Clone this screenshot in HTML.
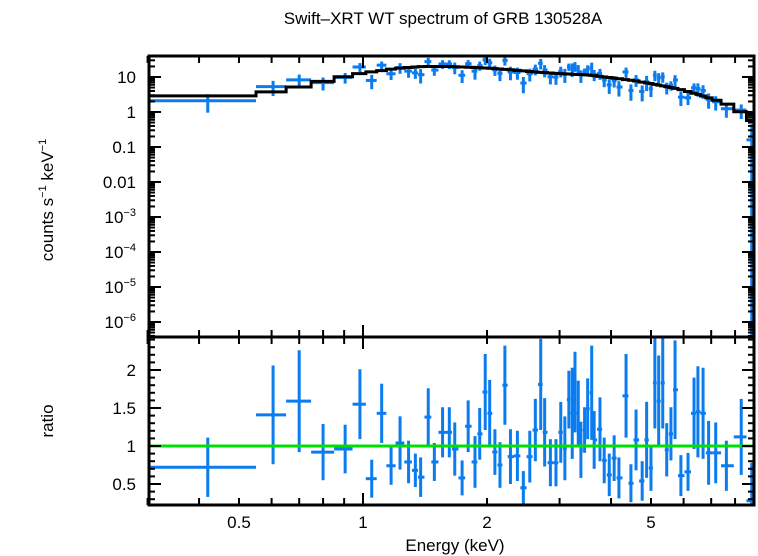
<!DOCTYPE html>
<html><head><meta charset="utf-8"><style>
html,body{margin:0;padding:0;background:#fff;}
svg{display:block;font-family:"Liberation Sans",sans-serif;}
</style></head><body>
<svg id="c" width="758" height="556" viewBox="0 0 758 556">
<text x="443" y="24" font-size="17" text-anchor="middle">Swift–XRT WT spectrum of GRB 130528A</text>
<text x="455" y="551" font-size="17" text-anchor="middle">Energy (keV)</text>
<text transform="translate(53,200) rotate(-90)" font-size="17" text-anchor="middle">counts s<tspan font-size="11" dy="-7">−1</tspan><tspan dy="7"> keV</tspan><tspan font-size="11" dy="-7">−1</tspan></text>
<text transform="translate(53,421) rotate(-90)" font-size="17" text-anchor="middle">ratio</text>
<g id="topPanel"></g>
<g id="botPanel"></g>
</svg>
<script>
const energies=[0.42,0.605,0.70,0.80,0.905,0.983,1.05,1.11,1.17,1.23,1.29,1.34,1.38,1.44,1.49,1.56,1.62,1.67,1.74,1.80,1.87,1.92,1.98,2.03,2.09,2.15,2.21,2.28,2.37,2.45,2.54,2.62,2.70,2.76,2.85,2.94,3.02,3.09,3.16,3.22,3.27,3.33,3.38,3.45,3.51,3.59,3.64,3.76,3.85,3.96,4.07,4.18,4.35,4.47,4.60,4.76,4.88,5.0,5.11,5.22,5.34,5.46,5.59,5.72,5.91,6.15,6.36,6.50,6.69,6.90,7.18,7.62,8.28,8.78];
const ratios=[0.72,1.41,1.59,0.92,0.96,1.55,0.57,1.43,0.74,1.04,0.79,0.68,0.59,1.38,0.79,1.18,1.18,0.96,0.58,1.26,0.79,1.16,1.71,1.43,0.92,0.75,1.80,0.86,0.87,0.45,0.86,1.21,1.81,1.18,0.78,0.78,1.18,0.97,1.61,1.43,1.71,1.43,0.95,1.21,1.49,1.70,1.08,1.22,0.81,0.62,0.84,0.58,1.66,0.51,1.08,0.54,1.08,0.71,1.83,1.59,1.83,0.95,1.16,1.74,0.61,0.66,1.43,1.45,1.43,0.91,0.91,0.74,1.12,0.28];
const ratioErrs=[0.39,0.65,0.67,0.37,0.32,0.46,0.25,0.39,0.25,0.35,0.28,0.22,0.26,0.38,0.25,0.33,0.33,0.35,0.23,0.34,0.34,0.34,0.5,0.44,0.3,0.3,0.52,0.36,0.33,0.22,0.34,0.41,0.6,0.45,0.31,0.31,0.4,0.42,0.38,0.6,0.53,0.43,0.37,0.3,0.4,0.62,0.38,0.42,0.3,0.28,0.3,0.27,0.55,0.25,0.4,0.26,0.5,0.3,0.6,0.6,0.6,0.35,0.35,0.65,0.27,0.25,0.47,0.6,0.6,0.42,0.4,0.33,0.5,0.5];
const modelKnotE=[0.3,0.42,0.6,0.7,0.8,0.9,1.0,1.1,1.2,1.4,1.6,1.8,2.0,2.3,2.6,3.0,3.5,4.0,4.5,5.0,5.5,6.0,6.5,7.0,7.6,8.3,8.9];
const modelKnotV=[2.9,2.9,3.7,5.2,7.5,10,13,15,17.5,20,20,19,18,16,14,12.5,11.5,9.5,8,6.5,5.2,4.2,3.2,2.4,1.7,1.0,0.5];
const xTicksMajor=[0.5,1,2,5];
const yTopLabels=[["10",1],["1",0],["0.1",-1],["0.01",-2],["10","-3",-3],["10","-4",-4],["10","-5",-5],["10","-6",-6]];
const yBotTicks=[0.5,1,1.5,2];

(function(){
const NS="http://www.w3.org/2000/svg";
const L=149,R=754,T1=56,B1=337,T2=337,B2=505;
const xs=e=>363+412*Math.log10(e);
const yTop=v=>77-35*(Math.log10(v)-1);
const yBot=r=>446-76*(r-1);
const blue="#0a7cf0";
const svg=document.getElementById('c');
function mk(parent,tag,attrs){const el=document.createElementNS(NS,tag);for(const k in attrs)el.setAttribute(k,attrs[k]);parent.appendChild(el);return el;}
function modelAt(e){for(let i=0;i<modelKnotE.length-1;i++){if(e<=modelKnotE[i+1]){const t=(Math.log(e)-Math.log(modelKnotE[i]))/(Math.log(modelKnotE[i+1])-Math.log(modelKnotE[i]));return Math.exp(Math.log(modelKnotV[i])*(1-t)+Math.log(modelKnotV[i+1])*t);}}return modelKnotV[modelKnotV.length-1];}
const n=energies.length;
const lo=[],hi=[];
for(let i=0;i<n;i++){lo.push(i===0?0.3:Math.sqrt(energies[i-1]*energies[i]));hi.push(i===n-1?8.9:Math.sqrt(energies[i]*energies[i+1]));}
hi[0]=0.55;lo[1]=0.55;
const topG=document.getElementById('topPanel'),botG=document.getElementById('botPanel');
const clampT=y=>Math.max(T1,Math.min(B1,y)),clampB=y=>Math.max(T2,Math.min(B2,y));
for(let i=0;i<n;i++){
 const m=modelAt(energies[i]);const v=ratios[i]*m,ev=ratioErrs[i]*m;
 const g=mk(topG,'g',{});
 
 
 const y=clampT(yTop(v));
 mk(g,'line',{x1:xs(lo[i]),x2:xs(hi[i]),y1:y,y2:y,stroke:blue,'stroke-width':3});
 mk(g,'line',{x1:xs(energies[i]),x2:xs(energies[i]),y1:clampT(yTop(v+ev)),y2:v-ev>0?clampT(yTop(v-ev)):B1,stroke:blue,'stroke-width':3});
 const g2=mk(botG,'g',{});
 
 
 const yr=clampB(yBot(ratios[i]));
 mk(g2,'line',{x1:xs(lo[i]),x2:xs(hi[i]),y1:yr,y2:yr,stroke:blue,'stroke-width':3});
 mk(g2,'line',{x1:xs(energies[i]),x2:xs(energies[i]),y1:clampB(yBot(ratios[i]+ratioErrs[i])),y2:clampB(yBot(ratios[i]-ratioErrs[i])),stroke:blue,'stroke-width':3});
}
let d="";
for(let i=0;i<n;i++){const y=yTop(modelAt(energies[i]));d+=(i===0?"M":"L")+xs(lo[i])+","+y+"L"+xs(hi[i])+","+y;}
const mp=mk(topG,'path',{d:d,fill:'none',stroke:'#000','stroke-width':3});


const gl=mk(botG,'line',{x1:L,x2:R,y1:yBot(1),y2:yBot(1),stroke:'#00e000','stroke-width':3});


for(const [t,b] of [[T1,B1],[T2,B2]]){const f=mk(svg,'rect',{x:L,y:t,width:R-L,height:b-t,fill:'none',stroke:'#000','stroke-width':3});
 
 }
const tg=mk(svg,'g',{stroke:'#000','stroke-width':2});


const minorE=[0.3,0.4,0.5,0.6,0.7,0.8,0.9,1,2,3,4,5,6,7,8];
for(const e of minorE){const x=xs(e);const len=(e===1)?12:7;
 for(const [t,b] of [[T1,B1],[T2,B2]]){mk(tg,'line',{x1:x,x2:x,y1:t,y2:t+len});mk(tg,'line',{x1:x,x2:x,y1:b,y2:b-len});}}
for(const e of xTicksMajor){const t=mk(svg,'text',{x:xs(e),y:528,'font-size':17,'text-anchor':'middle'});t.textContent=String(e);
 
 }
for(let dec=-7;dec<=1;dec++){for(let k=1;k<=9;k++){const v=k*Math.pow(10,dec);const y=yTop(v);if(y<T1||y>B1)continue;const len=k===1?12:6;
 mk(tg,'line',{x1:L,x2:L+len,y1:y,y2:y});mk(tg,'line',{x1:R,x2:R-len,y1:y,y2:y});}}
for(const lab of yTopLabels){const dec=lab[lab.length-1];const t=mk(svg,'text',{x:136,y:yTop(Math.pow(10,dec))+6,'font-size':17,'text-anchor':'end'});
 
 
 if(lab.length===3){t.textContent=lab[0];const s=mk(t,'tspan',{'font-size':11,dy:-7});s.textContent=lab[1].replace('-','−');}else t.textContent=lab[0];}
for(let r=0.3;r<=2.45;r+=0.1){const y=yBot(r);const major=Math.abs(r*2-Math.round(r*2))<0.01;const len=major?12:6;
 mk(tg,'line',{x1:L,x2:L+len,y1:y,y2:y});mk(tg,'line',{x1:R,x2:R-len,y1:y,y2:y});}
for(const r of yBotTicks){const t=mk(svg,'text',{x:136,y:yBot(r)+6,'font-size':17,'text-anchor':'end'});t.textContent=String(r);
 
 }
})();
</script>
</body></html>
